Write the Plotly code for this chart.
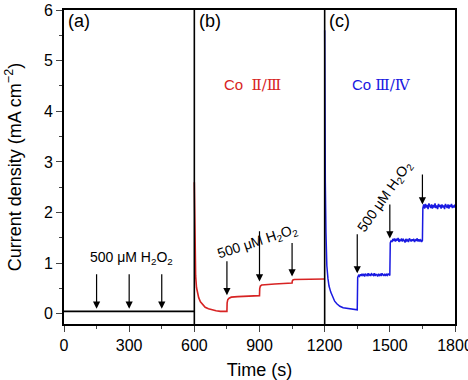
import plotly.graph_objects as go

# ---- data ----
# panel (a): bare electrode, flat response
t_a = [0, 600]
j_a = [0.05, 0.05]

# panel (b): Co II/III
t_b = [600, 601, 603, 606, 610, 615, 620, 628, 638, 650, 665, 680, 700, 720, 740, 750,
       751, 754, 760, 770, 800, 850, 900, 901, 904, 910, 930, 970, 1010, 1050,
       1051, 1054, 1060, 1080, 1120, 1160, 1200]
j_b = [2.6, 1.9, 1.2, 0.75, 0.52, 0.40, 0.32, 0.24, 0.18, 0.13, 0.10, 0.08, 0.06, 0.05, 0.05, 0.05,
       0.22, 0.28, 0.31, 0.33, 0.34, 0.35, 0.36, 0.50, 0.55, 0.57, 0.58, 0.59, 0.60, 0.61,
       0.65, 0.67, 0.68, 0.68, 0.69, 0.69, 0.69]

# panel (c): Co III/IV (decay part)
t_c_decay = [1200, 1201, 1203, 1206, 1210, 1215, 1220, 1228, 1236, 1246, 1256, 1270, 1285,
             1300, 1320, 1340, 1350]
j_c_decay = [5.6, 4.0, 2.6, 1.6, 0.95, 0.70, 0.55, 0.43, 0.33, 0.25, 0.20, 0.15, 0.12,
             0.11, 0.09, 0.08, 0.08]
# plateaus after each H2O2 addition (sampled every 4 s)
j_c_p1 = [0.72, 0.76, 0.74, 0.78, 0.75, 0.79, 0.76, 0.78, 0.74, 0.79, 0.77, 0.75, 0.80, 0.76,
          0.78, 0.75, 0.79, 0.77, 0.76, 0.80, 0.75, 0.78, 0.77, 0.74, 0.79, 0.76, 0.78, 0.75,
          0.80, 0.77, 0.76, 0.79, 0.75, 0.78, 0.76, 0.79, 0.77, 0.76]
j_c_p2 = [1.40, 1.45, 1.42, 1.48, 1.44, 1.49, 1.43, 1.47, 1.45, 1.50, 1.42, 1.46, 1.44, 1.49,
          1.43, 1.47, 1.45, 1.41, 1.48, 1.44, 1.46, 1.42, 1.49, 1.45, 1.43, 1.47, 1.44, 1.48,
          1.42, 1.46, 1.45, 1.49, 1.43, 1.47, 1.44, 1.46, 1.42, 1.45]
j_c_p3 = [2.09, 2.16, 2.08, 2.17, 2.10, 2.15, 2.07, 2.18, 2.12, 2.09, 2.16, 2.08, 2.15, 2.10,
          2.18, 2.09, 2.14, 2.07, 2.17, 2.11, 2.15, 2.08, 2.16, 2.10, 2.14, 2.07, 2.17, 2.11,
          2.09, 2.16, 2.08, 2.15, 2.11, 2.17, 2.09, 2.14, 2.10, 2.16]
t_c_p1 = list(range(1352, 1501, 4))
t_c_p2 = list(range(1502, 1651, 4))
t_c_p3 = list(range(1652, 1801, 4))

# arrows: (time, top, tip)
arrows_a = [(150, 0.81, 0.10), (300, 0.81, 0.10), (450, 0.81, 0.10)]
arrows_b = [(750, 1.07, 0.37), (900, 1.66, 0.64), (1050, 1.43, 0.74)]
arrows_c = [(1350, 1.60, 0.80), (1500, 2.19, 1.49), (1650, 2.78, 2.16)]

x_ticks = [0, 300, 600, 900, 1200, 1500, 1800]
y_ticks = [0, 1, 2, 3, 4, 5, 6]

t_c = t_c_decay + t_c_p1 + t_c_p2 + t_c_p3
j_c = j_c_decay + j_c_p1 + j_c_p2 + j_c_p3

RED = "rgb(215,35,35)"
BLUE = "rgb(25,25,225)"
FONT = "Liberation Sans, Arial, sans-serif"
SERIF = "DejaVu Serif, serif"

fig = go.Figure()
fig.add_trace(go.Scatter(x=t_a, y=j_a, mode="lines", line=dict(color="black", width=1.6)))
fig.add_trace(go.Scatter(x=t_b, y=j_b, mode="lines", line=dict(color=RED, width=1.6)))
fig.add_trace(go.Scatter(x=t_c, y=j_c, mode="lines", line=dict(color=BLUE, width=1.5)))

# panel separators
for xv in [600, 1200]:
    fig.add_shape(type="line", x0=xv, x1=xv, y0=0, y1=1, xref="x", yref="paper",
                  line=dict(color="black", width=1.6))

ann = []
for arrows in [arrows_a, arrows_b, arrows_c]:
    for (t, top, tip) in arrows:
        ann.append(dict(x=t, y=tip, ax=t, ay=top, xref="x", yref="y", axref="x", ayref="y",
                        text="", showarrow=True, arrowhead=2, arrowsize=1.2, arrowwidth=1.2,
                        arrowcolor="black"))

h2o2 = "500 \u03bcM H<sub>2</sub>O<sub>2</sub>"
ann.append(dict(x=312, y=1.1, xref="x", yref="y", text=h2o2, showarrow=False,
                font=dict(size=14, color="black", family=FONT)))
ann.append(dict(x=890, y=1.42, xref="x", yref="y", text=h2o2, showarrow=False, textangle=-18,
                font=dict(size=14, color="black", family=FONT)))
ann.append(dict(x=1478, y=2.3, xref="x", yref="y", text=h2o2, showarrow=False, textangle=-55,
                font=dict(size=14, color="black", family=FONT)))

ann.append(dict(x=870, y=4.52, xref="x", yref="y",
                text="Co  <span style='font-family:DejaVu Serif'>\u2161/\u2162</span>",
                showarrow=False, font=dict(size=15, color=RED, family=FONT)))
ann.append(dict(x=1463, y=4.52, xref="x", yref="y",
                text="Co <span style='font-family:DejaVu Serif'>\u2162/\u2163</span>",
                showarrow=False, font=dict(size=15, color=BLUE, family=FONT)))

for lab, xv in [("(a)", 10), ("(b)", 610), ("(c)", 1210)]:
    ann.append(dict(x=xv, y=1.0, xref="x", yref="paper", text=lab, showarrow=False,
                    xanchor="left", yanchor="top", yshift=1,
                    font=dict(size=18, color="black", family=FONT)))

fig.update_layout(
    width=468, height=380,
    margin=dict(l=64, r=13, t=10, b=56, autoexpand=False),
    paper_bgcolor="white", plot_bgcolor="white",
    showlegend=False,
    font=dict(family=FONT, color="black", size=16),
    annotations=ann,
)
fig.update_xaxes(range=[0, 1800], tickvals=x_ticks, ticks="outside", ticklen=6, tickwidth=1.2,
                 showline=True, linecolor="black", linewidth=1.6, mirror=True, showgrid=False,
                 zeroline=False, tickfont=dict(size=16), ticklabeloverflow="allow", automargin=False,
                 minor=dict(dtick=150, ticks="outside", ticklen=3, tickwidth=1.2, showgrid=False),
                 title=dict(text="Time (s)", font=dict(size=18), standoff=14))
fig.update_yaxes(range=[-0.2, 6], tickvals=y_ticks, ticks="outside", ticklen=6, tickwidth=1.2,
                 showline=True, linecolor="black", linewidth=1.6, mirror=True, showgrid=False,
                 zeroline=False, tickfont=dict(size=16), automargin=False,
                 minor=dict(dtick=0.5, tick0=0, ticks="outside", ticklen=3, tickwidth=1.2, showgrid=False),
                 title=dict(text="Current density (mA cm<sup>\u22122</sup>)", font=dict(size=18), standoff=18))

fig.write_html("out.html")
